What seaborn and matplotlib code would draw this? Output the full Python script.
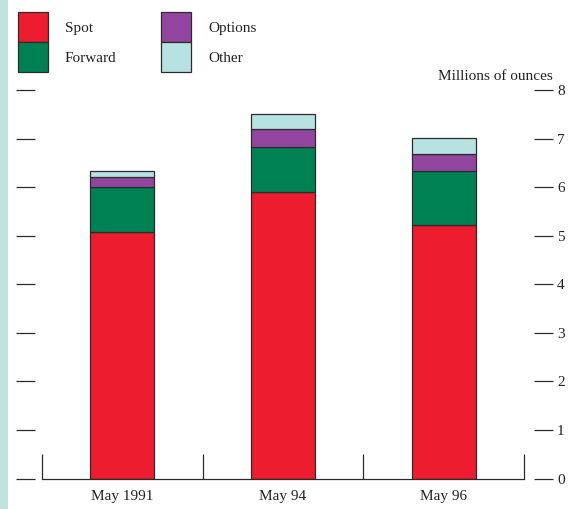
import numpy as np
import pandas as pd
import matplotlib
matplotlib.use("Agg")
import matplotlib.pyplot as plt
from matplotlib.patches import Rectangle
from matplotlib.ticker import FixedLocator
import seaborn as sns

# Silver turnover by transaction type, millions of ounces
categories = ["May 1991", "May 94", "May 96"]
spot = [5.08, 5.89, 5.21]
forward = [0.93, 0.94, 1.12]
options = [0.19, 0.37, 0.36]
other = [0.13, 0.31, 0.33]

series_names = ["Spot", "Forward", "Options", "Other"]
series_values = [spot, forward, options, other]
series_colors = ["#ED1C2E", "#008154", "#92469F", "#B8E1E1"]
y_ticks = [0, 1, 2, 3, 4, 5, 6, 7, 8]

sns.set_theme(style="white")
plt.rcParams["font.family"] = ["Liberation Serif", "DejaVu Serif"]
plt.rcParams["font.size"] = 11

W, H = 573, 509
fig = plt.figure(figsize=(W / 100, H / 100), dpi=100)
ax = fig.add_axes([42 / W, 30.5 / H, 482 / W, 388.5 / H])

edge = "#2b2b2b"
bottom = np.zeros(len(categories))
for name, vals, col in zip(series_names, series_values, series_colors):
    df = pd.DataFrame({"period": categories, "value": vals})
    sns.barplot(data=df, x="period", y="value", ax=ax, color=col,
                saturation=1, width=0.4, bottom=bottom.copy(),
                edgecolor=edge, linewidth=0.9, label=name, legend=False)
    bottom = bottom + np.asarray(vals)

ax.set_xlim(-0.5, 2.5)
ax.set_ylim(0, 8)
ax.set_xlabel("")
ax.set_ylabel("")

# Spines: only the baseline is drawn
for side in ("top", "left", "right"):
    ax.spines[side].set_visible(False)
ax.spines["bottom"].set_color(edge)
ax.spines["bottom"].set_linewidth(0.9)
ax.spines["left"].set_position(("outward", 5))
ax.spines["right"].set_position(("outward", 7))

# Y ticks on both sides, labels on the right
ax.yaxis.set_major_locator(FixedLocator(y_ticks))
ax.set_yticklabels([str(t) for t in y_ticks])
ax.tick_params(axis="y", which="major", left=True, right=True,
               labelleft=False, labelright=True, direction="out",
               length=13.7, width=0.9, color=edge, pad=3,
               labelsize=11, labelcolor="#222222")

# Category labels with separator ticks between groups
ax.set_xticks(range(len(categories)))
ax.set_xticklabels(categories)
ax.xaxis.set_minor_locator(FixedLocator([-0.5, 0.5, 1.5, 2.5]))
ax.tick_params(axis="x", which="major", length=0, pad=8,
               labelsize=11, labelcolor="#222222")
ax.tick_params(axis="x", which="minor", bottom=True, direction="in",
               length=18, width=0.9, color=edge)

fig.text(553 / W, 1 - 76 / H, "Millions of ounces", ha="right",
         va="center", fontsize=11, color="#222222")

# Legend with touching square swatches
fs = 11 * 100 / 72
swatch = 30
hh = (swatch / fs - 0.245) / 0.65
ax.legend(handles=list(ax.containers), labels=series_names, ncol=2,
          loc="upper left", bbox_to_anchor=(17.5 / W, 1 - 12 / H),
          bbox_transform=fig.transFigure, frameon=False, borderpad=0,
          borderaxespad=0, handlelength=swatch / fs, handleheight=hh,
          handletextpad=17 / fs, columnspacing=45 / fs, labelspacing=0,
          fontsize=11, labelcolor="#222222")

# Pale strip along the left edge
fig.add_artist(Rectangle((0, 0), 8 / W, 1, transform=fig.transFigure,
                         facecolor="#BFE1DF", edgecolor="none"))

fig.savefig("out.png", dpi=100)
